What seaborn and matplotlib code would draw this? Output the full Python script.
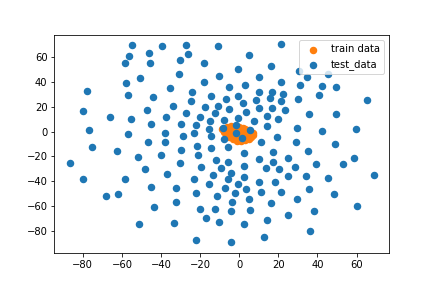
import matplotlib
matplotlib.use("Agg")
import matplotlib.pyplot as plt
import seaborn as sns
import numpy as np

# train data: dense cluster near the origin
train_x = [-6, -4, -2, 0, 2,
           -9, -7, -5, -3, -1, 1, 3, 5,
           -8, -6, -4, -2, 0, 2, 4, 6, 7,
           -7, -5, -3, -1, 1, 3, 5, 7,
           -5, -3, -1, 1, 3, 5, 6,
           -3, -1, 1, 3, 5,
           -1, 1, 3]
train_y = [4, 4.5, 4, 4, 3,
           2, 2, 2, 2, 2, 2, 2, 1.5,
           0, 0, 0, 0, 0, 0, 0, 0, -1,
           -2, -2, -2, -2, -2, -2, -2, -2.5,
           -4, -4, -4, -4, -4, -4, -4,
           -6, -6, -6, -6, -6,
           -7.5, -7.5, -7]

# test data
test_x = [-55.0, -39.6, -56.6, -46.3, -58.6, -45.8, -50.9, -58.1, -78.0, -57.1,
          -44.3, -80.1, -47.4, -27.1, -10.6, -26.4, -30.5, 4.8, -18.2, 16.1,
          -31.0, -0.4, -10.1, 9.9, -18.2, -35.6, 3.2, -5.0, -24.4, -14.2,
          -7.0, -0.4, 9.9, 16.6, -24.9, -34.1, -17.7, -11.1, 1.7, 8.8,
          -5.0, 9.9, 15.5, 21.5, 30.8, 34.9, 45.5, 21.5, 31.3, 42.1,
          49.6, 22.6, 21.6, 30.3, 41.0, 65.4, 16.6, 23.4, -66.3, -55.5,
          -37.3, -77.0, -57.1, -45.3, -46.9, -38.0, -37.7, -75.3, -62.7, -52.0,
          -40.0, -86.7, -48.4, -80.1, -58.6, -45.2, -36.8, -27.4, -12.6, 3.7,
          -20.3, -0.4, 14.2, -30.0, -22.0, -14.7, -8.0, 7.8, -23.0, -15.7,
          -8.5, -1.4, 5.3, 14.1, -29.0, -14.2, -8.0, -1.4, 1.2, 10.9,
          -30.0, -21.8, -14.2, -5.5, 2.2, -30.5, -21.3, -11.8, -5.5, 9.9,
          -19.3, -9.2, 2.2, 13.9, -13.6, -4.4, -22.9, -5.5, 2.7, 9.9,
          -15.7, -0.8, 35.9, 49.7, 19.6, 29.3, 42.1, 59.9, 19.1, 28.8,
          49.2, 35.4, 17.5, 25.2, 58.9, 17.5, 28.3, 39.5, 53.3, 20.1,
          24.7, 33.9, 45.6, 69.1, 18.5, -68.3, -62.2, -43.8, -51.5, -32.2,
          -7.5, 3.7, -22.3, -11.6, -1.9, 10.9, -32.2, -3.9, 4.8, 16.1,
          -20.3, -12.6, -4.4, 5.6, -17.2, -10.1, -33.1, 2.2, 14.3, -22.3,
          -4.1, 12.9, 35.9, 21.6, 48.7, 29.8, 60.4, 38.5, 25.2, 36.4]
test_y = [69.5, 68.8, 60.9, 63.1, 55.0, 55.0, 42.9, 38.9, 32.4, 29.4,
          27.6, 16.5, 17.1, 69.5, 68.7, 62.3, 57.4, 61.5, 55.0, 52.8,
          46.1, 50.2, 44.5, 43.7, 39.7, 34.8, 37.5, 35.6, 31.6, 28.4,
          26.0, 28.4, 31.6, 32.3, 24.6, 20.8, 20.2, 20.8, 22.7, 25.2,
          18.1, 19.4, 26.8, 70.6, 48.5, 43.7, 46.1, 39.7, 37.5, 36.5,
          35.6, 30.2, 24.4, 26.0, 29.2, 25.2, 19.4, 17.3, 11.5, 9.8,
          11.9, 1.0, -2.3, 5.8, -8.7, -1.4, -8.7, -12.7, -16.0, -20.8,
          -19.2, -25.6, -30.5, -38.3, -38.3, -45.0, -34.5, 15.2, 15.2, 15.7,
          11.9, 11.1, 12.5, 6.0, 5.2, 8.7, 9.3, 8.7, -1.2, 2.0,
          2.6, 5.2, 1.0, 4.2, -3.9, -3.9, -6.3, -1.5, -5.5, -8.7,
          -15.2, -11.5, -13.5, -12.7, -17.1, -25.6, -19.2, -22.7, -24.8, -22.2,
          -28.9, -29.7, -28.1, -29.7, -35.3, -33.7, -38.3, -38.5, -36.7, -40.7,
          -42.3, -42.3, 13.9, 13.9, 9.8, 2.6, 0.2, 1.8, -4.7, -8.7,
          -10.3, -15.7, -16.8, -21.6, -21.6, -24.8, -28.9, -26.5, -26.5, -30.5,
          -36.1, -36.1, -37.7, -35.3, -40.3, -52.3, -50.6, -61.1, -74.8, -45.8,
          -45.8, -46.6, -49.8, -52.3, -49.8, -49.0, -57.1, -57.1, -54.7, -57.9,
          -62.7, -62.7, -64.4, -63.5, -70.0, -73.2, -74.0, -74.8, -71.6, -87.7,
          -89.4, -85.3, -46.6, -49.0, -50.6, -54.7, -60.3, -64.4, -67.6, -80.5]

x_ticks = [-80, -60, -40, -20, 0, 20, 40, 60]
y_ticks = [-80, -60, -40, -20, 0, 20, 40, 60]

fig = plt.figure(figsize=(6, 4), dpi=72)
fig.subplots_adjust(left=0.126, right=0.9, bottom=0.123, top=0.878)
ax = fig.add_subplot(111)

sns.scatterplot(x=train_x, y=train_y, ax=ax, color="C1", s=36,
                edgecolor="face", linewidth=1.5, label="train data")
sns.scatterplot(x=test_x, y=test_y, ax=ax, color="C0", s=36,
                edgecolor="face", linewidth=1.5, label="test_data")

ax.set_xlim(-94.5, 76.5)
ax.set_ylim(-97.6, 77.8)
ax.set_xticks(x_ticks)
ax.set_yticks(y_ticks)
ax.legend(loc="upper right")

fig.savefig("out.png", dpi=72)
